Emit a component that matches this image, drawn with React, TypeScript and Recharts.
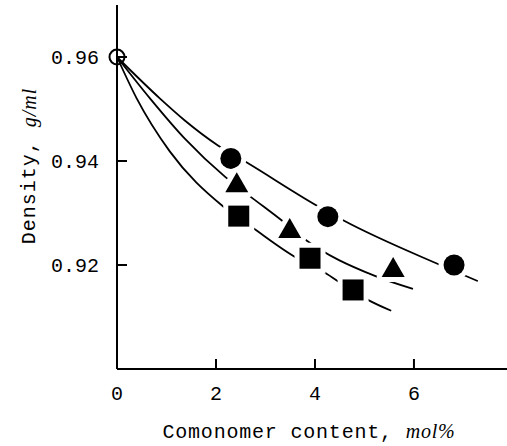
import React from 'react';
import {
  ComposedChart,
  Line,
  Scatter,
  XAxis,
  YAxis,
  Label,
} from 'recharts';

// Fitted curves
const curveAX = [0, 0.87, 1.37, 2.04, 2.59, 4.06, 4.57, 6.53, 7.29];
const curveAY = [0.96, 0.952, 0.9478, 0.943, 0.9399, 0.9313, 0.9286, 0.92, 0.9169];

const curveBX = [0, 0.67, 1.37, 2.18, 2.69, 3.35, 3.76, 5.21, 5.98];
const curveBY = [0.96, 0.952, 0.9443, 0.937, 0.9332, 0.9284, 0.9252, 0.9179, 0.9154];

const curveCX = [0, 0.4, 1.07, 2.14, 2.75, 3.64, 4.14, 4.51, 5.07, 5.54];
const curveCY = [0.96, 0.952, 0.9418, 0.9313, 0.9271, 0.9213, 0.9189, 0.9166, 0.9133, 0.9112];

// Measured points
const circleX = [2.3, 4.26, 6.81];
const circleY = [0.9405, 0.9293, 0.92];

const triangleX = [2.42, 3.49, 5.58];
const triangleY = [0.9357, 0.9269, 0.9194];

const squareX = [2.46, 3.9, 4.77];
const squareY = [0.9294, 0.9213, 0.9152];

const originX = [0];
const originY = [0.96];

const xTicks = [0, 2, 4, 6];
const yTicks = [0.92, 0.94, 0.96];

const zip = (xs: number[], ys: number[]) => xs.map((x, i) => ({ x, y: ys[i] }));

const FONT = '"Liberation Mono", "DejaVu Sans Mono", monospace';
const ITALIC = '"Liberation Serif", "DejaVu Serif", serif';

const gap = { paintOrder: 'stroke' as const };

function Disc(props: any) {
  const { cx, cy } = props;
  return <circle cx={cx} cy={cy} r={10.5} fill="#000" stroke="#fff" strokeWidth={10} style={gap} />;
}

function Tri(props: any) {
  const { cx, cy } = props;
  const pts = `${cx},${cy - 11} ${cx - 11.5},${cy + 9} ${cx + 11.5},${cy + 9}`;
  return <polygon points={pts} fill="#000" stroke="#fff" strokeWidth={10} strokeLinejoin="round" style={gap} />;
}

function Box(props: any) {
  const { cx, cy } = props;
  return (
    <rect x={cx - 10.5} y={cy - 10.5} width={21} height={21} fill="#000" stroke="#fff" strokeWidth={10} style={gap} />
  );
}

function OpenRing(props: any) {
  const { cx, cy } = props;
  return <circle cx={cx} cy={cy} r={7.5} fill="none" stroke="#000" strokeWidth={2} />;
}

function XTitle(props: any) {
  const vb = props.viewBox;
  return (
    <text
      x={vb.x + vb.width / 2 - 3}
      y={vb.y + 69}
      textAnchor="middle"
      fontFamily={FONT}
      fontSize={20}
      letterSpacing={0.8}
      fill="#000"
    >
      Comonomer content, <tspan fontFamily={ITALIC} fontStyle="italic">mol%</tspan>
    </text>
  );
}

function YTitle(props: any) {
  const vb = props.viewBox;
  const cx = vb.x + 29;
  const cy = vb.y + vb.height / 2 - 21;
  return (
    <text
      x={cx}
      y={cy}
      transform={`rotate(-90, ${cx}, ${cy})`}
      textAnchor="middle"
      dominantBaseline="central"
      fontFamily={FONT}
      fontSize={20}
      letterSpacing={1}
      fill="#000"
    >
      Density, <tspan fontFamily={ITALIC} fontStyle="italic">g/ml</tspan>
    </text>
  );
}

export default function App() {
  const tickStyle = { fontSize: 20, fill: '#000', fontFamily: FONT };

  return (
    <div style={{ position: 'absolute', left: 0, top: 0, background: '#fff' }}>
      <ComposedChart
        width={507}
        height={446}
        margin={{ top: 5, right: 0, left: 0, bottom: 0 }}
      >
        <XAxis
          dataKey="x"
          type="number"
          domain={[0, 7.88]}
          ticks={xTicks}
          height={77}
          tick={tickStyle}
          tickSize={-10}
          tickMargin={27}
          tickLine={{ stroke: '#000', strokeWidth: 2 }}
          axisLine={{ stroke: '#000', strokeWidth: 2 }}
        >
          <Label content={<XTitle />} />
        </XAxis>
        <XAxis
          xAxisId="top"
          orientation="top"
          dataKey="x"
          type="number"
          domain={[0, 7.88]}
          height={0}
          tick={false}
          tickLine={false}
          axisLine={{ stroke: '#000', strokeWidth: 2 }}
        />
        <YAxis
          dataKey="y"
          type="number"
          domain={[0.9, 0.97]}
          ticks={yTicks}
          width={117}
          tick={tickStyle}
          tickFormatter={(v: number) => v.toFixed(2)}
          tickSize={-10}
          tickMargin={28}
          tickLine={{ stroke: '#000', strokeWidth: 2 }}
          axisLine={{ stroke: '#000', strokeWidth: 2 }}
        >
          <Label content={<YTitle />} />
        </YAxis>

        <Line data={zip(curveAX, curveAY)} dataKey="y" type="monotone" stroke="#000" strokeWidth={1.8} dot={false} activeDot={false} isAnimationActive={false} />
        <Line data={zip(curveBX, curveBY)} dataKey="y" type="monotone" stroke="#000" strokeWidth={1.8} dot={false} activeDot={false} isAnimationActive={false} />
        <Line data={zip(curveCX, curveCY)} dataKey="y" type="monotone" stroke="#000" strokeWidth={1.8} dot={false} activeDot={false} isAnimationActive={false} />

        <Scatter data={zip(circleX, circleY)} dataKey="y" shape={<Disc />} isAnimationActive={false} />
        <Scatter data={zip(triangleX, triangleY)} dataKey="y" shape={<Tri />} isAnimationActive={false} />
        <Scatter data={zip(squareX, squareY)} dataKey="y" shape={<Box />} isAnimationActive={false} />
        <Scatter data={zip(originX, originY)} dataKey="y" shape={<OpenRing />} isAnimationActive={false} />
      </ComposedChart>
    </div>
  );
}
